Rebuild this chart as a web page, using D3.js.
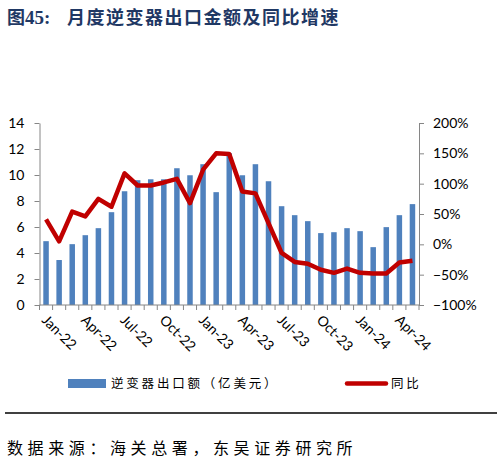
<!DOCTYPE html>
<html>
<head>
<meta charset="utf-8">
<script src="https://cdn.jsdelivr.net/npm/d3@7"></script>
<style>
  body { margin: 0; background: #fff; }
  svg { display: block; }
</style>
</head>
<body>
<div id="chart"></div>
<script>
// months Jan-22 .. May-24
const months = ["Jan-22","Feb-22","Mar-22","Apr-22","May-22","Jun-22","Jul-22","Aug-22","Sep-22","Oct-22","Nov-22","Dec-22",
  "Jan-23","Feb-23","Mar-23","Apr-23","May-23","Jun-23","Jul-23","Aug-23","Sep-23","Oct-23","Nov-23","Dec-23",
  "Jan-24","Feb-24","Mar-24","Apr-24","May-24"];
// export value, 100m USD
const exportValue = [4.91,3.46,4.68,5.37,5.91,7.14,8.75,9.60,9.67,9.67,10.52,9.98,
  10.83,8.68,11.67,9.98,10.83,9.52,7.60,6.91,6.45,5.53,5.60,5.91,
  5.68,4.45,5.99,6.91,7.76];
// yoy growth
const yoy = [0.41,0.05,0.54,0.46,0.75,0.62,1.17,0.97,0.97,1.02,1.08,0.68,
  1.23,1.50,1.49,0.87,0.84,0.35,-0.14,-0.29,-0.32,-0.42,-0.47,-0.40,
  -0.47,-0.48,-0.48,-0.30,-0.27];
const leftTicks = [0,2,4,6,8,10,12,14];
const rightTicks = [-1,-0.5,0,0.5,1,1.5,2];
const labelMonths = ["Jan-22","Apr-22","Jul-22","Oct-22","Jan-23","Apr-23","Jul-23","Oct-23","Jan-24","Apr-24"];

const W = 502, H = 475;
const plot = {left: 39.5, right: 419, top: 123, bottom: 305};
const axisColor = "#868686";
const tickFont = "Lato, 'Liberation Sans', sans-serif";
const cjk = "'Noto Sans CJK SC', sans-serif";

const svg = d3.select("#chart").append("svg")
    .attr("width", W)
    .attr("height", H);

// title
const title = svg.append("text")
  .attr("x", 7)
  .attr("y", 24)
  .attr("font-weight", "bold")
  .attr("font-size", 18)
  .attr("fill", "#1f3864");
title.append("tspan").attr("font-family", cjk).text("图");
title.append("tspan").attr("font-family", "'Liberation Serif', serif").attr("font-size", 19).text("45:");
svg.append("text")
  .attr("x", 67)
  .attr("y", 24)
  .attr("font-family", cjk)
  .attr("font-weight", "bold")
  .attr("font-size", 18)
  .attr("letter-spacing", 1.5)
  .attr("fill", "#1f3864")
  .text("月度逆变器出口金额及同比增速");

// scales
const x = d3.scaleBand()
  .domain(months)
  .range([plot.left, plot.right])
  .paddingInner(0.58)
  .paddingOuter(0.29);
const step = x.step();
const yL = d3.scaleLinear().domain([0, 14]).range([plot.bottom, plot.top]);
const yR = d3.scaleLinear().domain([-1, 2]).range([plot.bottom, plot.top]);

// bars
svg.append("g").selectAll("rect")
  .data(exportValue)
  .join("rect")
    .attr("x", (d, i) => x(months[i]))
    .attr("y", d => yL(d))
    .attr("width", x.bandwidth())
    .attr("height", d => yL(0) - yL(d))
    .attr("fill", "#4f81bd");

// left axis
const gL = svg.append("g")
  .attr("transform", `translate(${plot.left},0)`)
  .call(d3.axisLeft(yL).tickValues(leftTicks).tickSize(5).tickSizeOuter(0).tickPadding(10));
gL.select(".domain").attr("stroke", axisColor);
gL.selectAll(".tick line").attr("stroke", axisColor);
gL.selectAll("text").attr("font-family", tickFont).attr("font-size", 14).attr("fill", "#000");

// right axis
const gR = svg.append("g")
  .attr("transform", `translate(${plot.right},0)`)
  .call(d3.axisRight(yR).tickValues(rightTicks).tickSize(5).tickSizeOuter(0).tickPadding(9).tickFormat(d3.format(".0%")));
gR.select(".domain").attr("stroke", axisColor);
gR.selectAll(".tick line").attr("stroke", axisColor);
gR.selectAll("text").attr("font-family", tickFont).attr("font-size", 14).attr("fill", "#000");

// bottom axis: line + ticks between categories
const gB = svg.append("g")
  .attr("transform", `translate(0,${plot.bottom})`);
gB.append("line")
  .attr("x1", plot.left).attr("x2", plot.right)
  .attr("stroke", axisColor);
gB.selectAll(".bt")
  .data(months.concat(["end"]))
  .join("line")
    .attr("class", "bt")
    .attr("x1", (d, i) => plot.left + i * step)
    .attr("x2", (d, i) => plot.left + i * step)
    .attr("y1", 0).attr("y2", 5)
    .attr("stroke", axisColor);
gB.selectAll(".bl")
  .data(labelMonths)
  .join("text")
    .attr("class", "bl")
    .attr("transform", d => `translate(${x(d) + x.bandwidth() / 2 - 5},${16}) rotate(45)`)
    .attr("font-family", tickFont)
    .attr("font-size", 14)
    .attr("fill", "#000")
    .text(d => d);

// yoy line
const line = d3.line()
  .x((d, i) => x(months[i]) + x.bandwidth() / 2)
  .y(d => yR(d));
svg.append("path")
  .datum(yoy)
  .attr("d", line)
  .attr("fill", "none")
  .attr("stroke", "#c00000")
  .attr("stroke-width", 4.5)
  .attr("stroke-linejoin", "round");

// legend
const lg = svg.append("g");
lg.append("rect")
  .attr("x", 68).attr("y", 379).attr("width", 38).attr("height", 9)
  .attr("fill", "#4f81bd");
lg.append("text")
  .attr("x", 111).attr("y", 388)
  .attr("font-family", cjk)
  .attr("font-size", 12.5)
  .attr("letter-spacing", 2.8)
  .attr("fill", "#000")
  .text("逆变器出口额（亿美元）");
lg.append("line")
  .attr("x1", 347).attr("x2", 386).attr("y1", 383.5).attr("y2", 383.5)
  .attr("stroke", "#c00000")
  .attr("stroke-width", 4.5)
  .attr("stroke-linecap", "round");
lg.append("text")
  .attr("x", 391).attr("y", 388)
  .attr("font-family", cjk)
  .attr("font-size", 12.5)
  .attr("letter-spacing", 2.8)
  .attr("fill", "#000")
  .text("同比");

// separator
svg.append("line")
  .attr("x1", 5).attr("x2", 497).attr("y1", 413).attr("y2", 413)
  .attr("stroke", "#000")
  .attr("stroke-width", 1.5);

// source
svg.append("text")
  .attr("x", 7).attr("y", 454)
  .attr("font-family", cjk)
  .attr("font-size", 16)
  .attr("letter-spacing", 4.6)
  .attr("fill", "#000")
  .text("数据来源：海关总署，东吴证券研究所");
</script>
</body>
</html>
